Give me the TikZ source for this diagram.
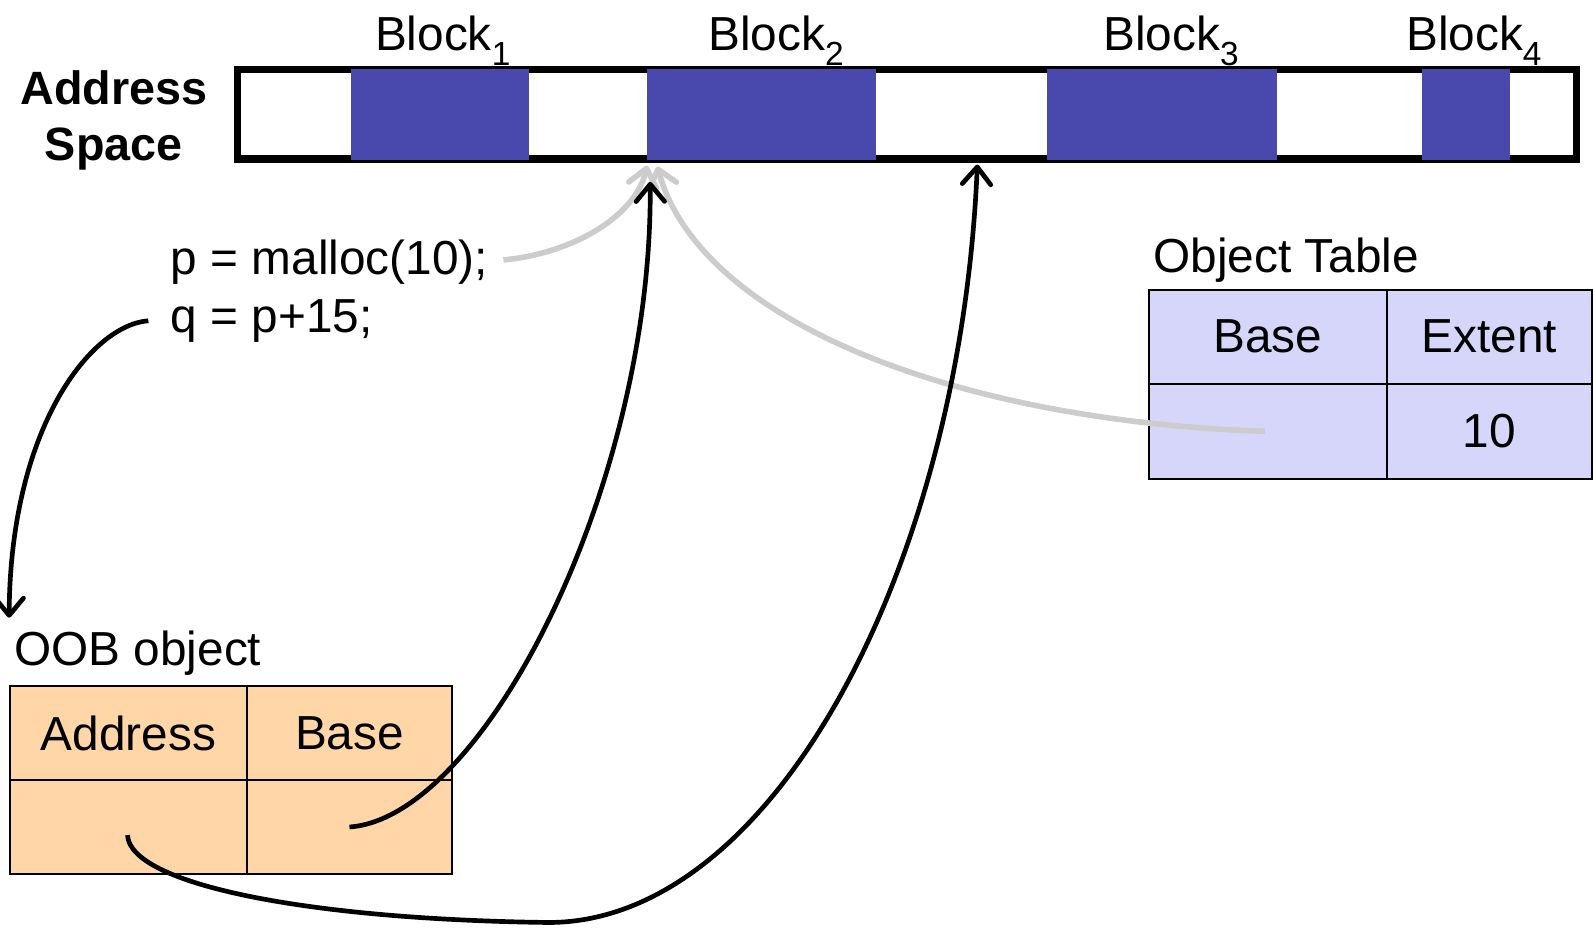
\documentclass[tikz,border=0pt]{standalone}
\usepackage{fontspec}
\setmainfont{Liberation Sans}
\usetikzlibrary{arrows.meta,calc}
\definecolor{blockblue}{RGB}{72,72,173}
\definecolor{otfill}{RGB}{214,214,250}
\definecolor{oobfill}{RGB}{255,214,168}
\definecolor{ptrgray}{RGB}{204,204,204}
\begin{document}
\begin{tikzpicture}[x=1pt,y=-1pt,
  lbl/.style={inner sep=0pt, font=\fontsize{47}{55}\selectfont},
  boldlbl/.style={inner sep=0pt, font=\fontsize{46}{55}\selectfont\bfseries},
  cell/.style={draw=black, line width=2pt, inner sep=0pt, outer sep=0pt, font=\fontsize{47}{55}\selectfont},
  ptr/.style={line width=4.6pt, -{Straight Barb[length=17pt,width=28pt,round]}},
  gptr/.style={ptr, draw=ptrgray, line width=5.5pt},
]
\useasboundingbox (0,0) rectangle (1568,914);

% address space
\draw[line width=7pt] (233.5,68.5) rectangle (1551.5,156.5);
\fill[blockblue] (345,68) rectangle (521,157);
\fill[blockblue] (637,68) rectangle (862,157);
\fill[blockblue] (1031,68) rectangle (1257,157);
\fill[blockblue] (1400,68) rectangle (1486,157);

\node[lbl, anchor=base] (blk1) at (436,50) {Block\textsubscript{1}};
\node[lbl, anchor=base] (blk2) at (764,50) {Block\textsubscript{2}};
\node[lbl, anchor=base] (blk3) at (1153,50) {Block\textsubscript{3}};
\node[lbl, anchor=base] (blk4) at (1451,50) {Block\textsubscript{4}};

\node[boldlbl, anchor=base] (addr1) at (112,103) {Address};
\node[boldlbl, anchor=base] (addr2) at (112,158) {Space};

\node[lbl, anchor=base west] (malloc) at (168,270) {p = malloc(10);};
\node[lbl, anchor=base west] (qline) at (168,327) {q = p+15;};
\node[lbl, anchor=base west] (ottitle) at (1135,268) {Object Table};
\node[lbl, anchor=base west] (oobtitle) at (14,655) {OOB object};

% OOB table
\node[cell, fill=oobfill, minimum width=233pt, minimum height=93pt] (oobA) at (126.5,721.5) {Address};
\node[cell, fill=oobfill, minimum width=202pt, minimum height=93pt] (oobB) at (344,721.5) {Base};
\node[cell, fill=oobfill, minimum width=233pt, minimum height=92pt] (oobA2) at (126.5,814) {};
\node[cell, fill=oobfill, minimum width=202pt, minimum height=92pt] (oobB2) at (344,814) {};

% object table
\node[cell, fill=otfill, minimum width=234pt, minimum height=93pt] (otB) at (1248,331.5) {Base};
\node[cell, fill=otfill, minimum width=202pt, minimum height=93pt] (otE) at (1466,331.5) {Extent};
\node[cell, fill=otfill, minimum width=234pt, minimum height=93pt] (otB2) at (1248,424.5) {};
\node[cell, fill=otfill, minimum width=202pt, minimum height=93pt] (otE2) at (1466,424.5) {10};

% arrow targets
\coordinate (tipMalloc) at (637,163);
\coordinate (tipTable) at (647,164);
\coordinate (tipBase) at (640,179);
\coordinate (tipAddr) at (962,162);
\coordinate (tipOOB) at (9,608);

% connectors
\draw[gptr] ($(malloc.east)+(15,-2)$) .. controls (560,250) and (625,215) .. (tipMalloc);
\draw[gptr] ($(otB2.center)+(-3,0)$) .. controls (950,415) and (690,320) .. (tipTable);
\draw[ptr] (oobB2.center) .. controls (475,805) and (642,480) .. (tipBase);
\draw[ptr] ($(oobA2.center)+(-1,8)$) .. controls (128,870) and (300,905) .. (540,908)
   .. controls (760,908) and (945,560) .. (tipAddr);
\draw[ptr] ($(qline.west)+(-22,0)$) .. controls (90,320) and (10,420) .. (tipOOB);
\end{tikzpicture}
\end{document}
